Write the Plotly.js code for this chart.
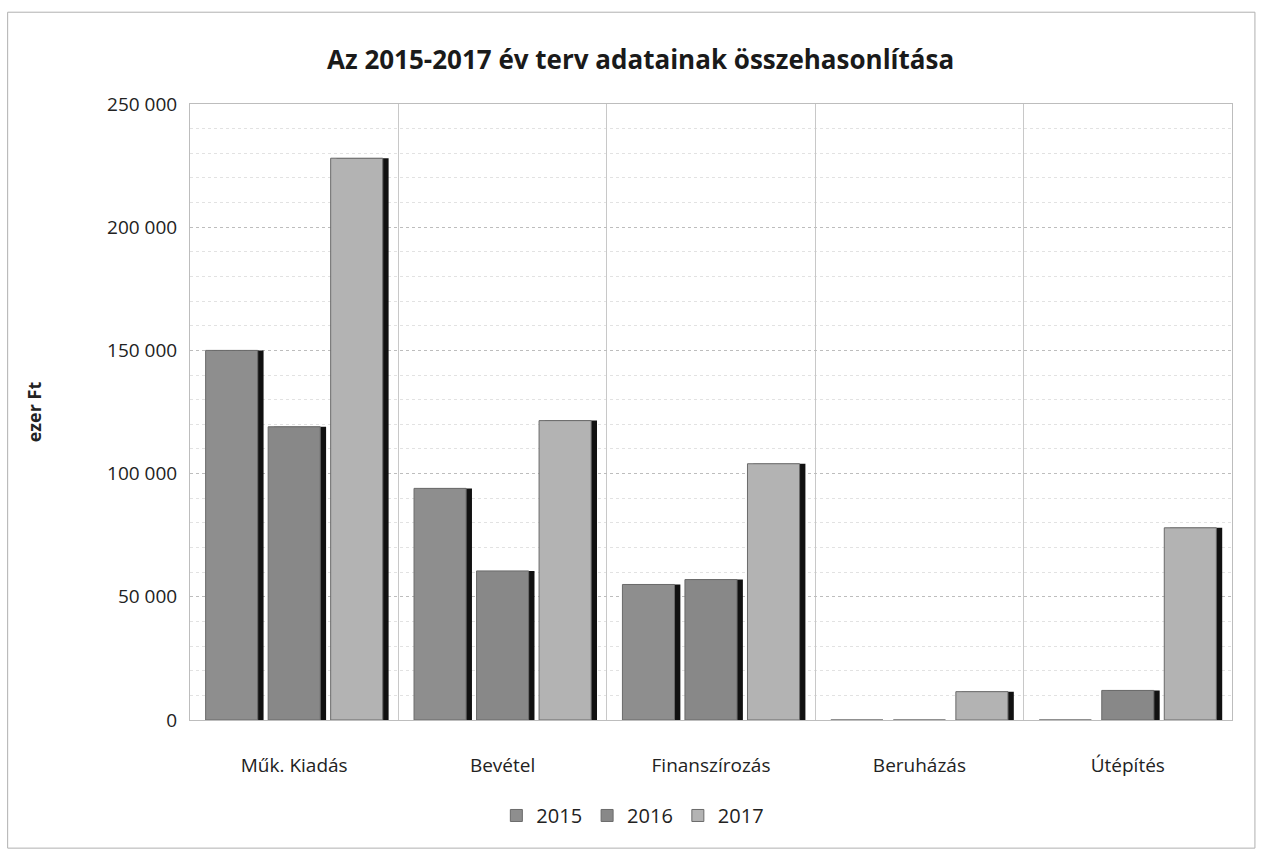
<!DOCTYPE html>
<html>
<head>
<meta charset="utf-8">
<script src="https://cdn.plot.ly/plotly-3.0.1.min.js"></script>
<style>html,body{margin:0;padding:0;background:#fff;}#chart{width:1266px;height:854px;}</style>
</head>
<body>
<div id="chart"></div>
<script>
const categories = ["Műk. Kiadás", "Bevétel", "Finanszírozás", "Beruházás", "Útépítés"];
const years = ["2015", "2016", "2017"];
const values2015 = [150000, 94000, 55000, 0, 0];
const values2016 = [119000, 60500, 57000, 0, 12000];
const values2017 = [228000, 121500, 104000, 11500, 78000];
const yTicks = [0, 50000, 100000, 150000, 200000, 250000];
const yTickLabels = ["0", "50 000", "100 000", "150 000", "200 000", "250 000"];

const series = [values2015, values2016, values2017];
const colors = ["#8e8e8e", "#888888", "#b3b3b3"];
const offsets = [-0.425, -0.125, 0.175];
const barWidth = 0.25;

const traces = [];
// shadows (drawn behind)
series.forEach((vals, i) => {
  traces.push({
    type: "bar", x: categories, y: vals,
    offset: offsets[i] + 0.028, width: barWidth,
    marker: {color: "#111111", line: {width: 0}},
    showlegend: false, hoverinfo: "skip"
  });
});
series.forEach((vals, i) => {
  traces.push({
    type: "bar", name: years[i], x: categories, y: vals,
    offset: offsets[i], width: barWidth,
    marker: {color: colors[i], line: {color: "#6a6a6a", width: 1}}
  });
});

const layout = {
  width: 1266, height: 854,
  paper_bgcolor: "#ffffff", plot_bgcolor: "#ffffff",
  margin: {l: 190, r: 34, t: 104, b: 134, autoexpand: false},
  barmode: "overlay",
  font: {family: "Open Sans, Liberation Sans, sans-serif", color: "#222"},
  title: {text: "<b>Az 2015-2017 év terv adatainak összehasonlítása</b>",
          font: {size: 26, color: "#1a1a1a"}, x: 0.506, xref: "container", y: 0.93, yanchor: "middle"},
  xaxis: {
    type: "category", tickson: "boundaries", showgrid: true, gridcolor: "#c8c8c8", gridwidth: 1,
    ticks: "", tickfont: {size: 19, color: "#222"}, tickangle: 0, automargin: false, ticklabelstandoff: 28,
    showline: true, linecolor: "#bdbdbd", mirror: true,
    range: [-0.5, 4.5], fixedrange: true
  },
  yaxis: {
    range: [0, 250000], tickvals: yTicks, ticktext: yTickLabels, automargin: false,
    tickfont: {size: 19, color: "#222"}, ticks: "", ticklen: 0, ticklabelstandoff: 8,
    showgrid: true, gridcolor: "#bdbdbd", gridwidth: 1, griddash: "dot",
    minor: {dtick: 10000, showgrid: true, gridcolor: "#e2e2e2", gridwidth: 1},
    showline: true, linecolor: "#bdbdbd", mirror: true, zeroline: false,
    title: {text: "<b>ezer Ft</b>", font: {size: 18, color: "#222"}, standoff: 60}
  },
  legend: {orientation: "h", x: 0.425, xanchor: "center", y: -0.155, yanchor: "middle",
           font: {size: 20, color: "#222"}, traceorder: "normal"},
  shapes: [{type: "rect", xref: "paper", yref: "paper", x0: -0.175, x1: 1.022, y0: -0.208, y1: 1.149,
            line: {color: "#b0b0b0", width: 1}, layer: "below"}]
};

Plotly.newPlot("chart", traces, layout, {displayModeBar: false, staticPlot: true});
</script>
</body>
</html>
